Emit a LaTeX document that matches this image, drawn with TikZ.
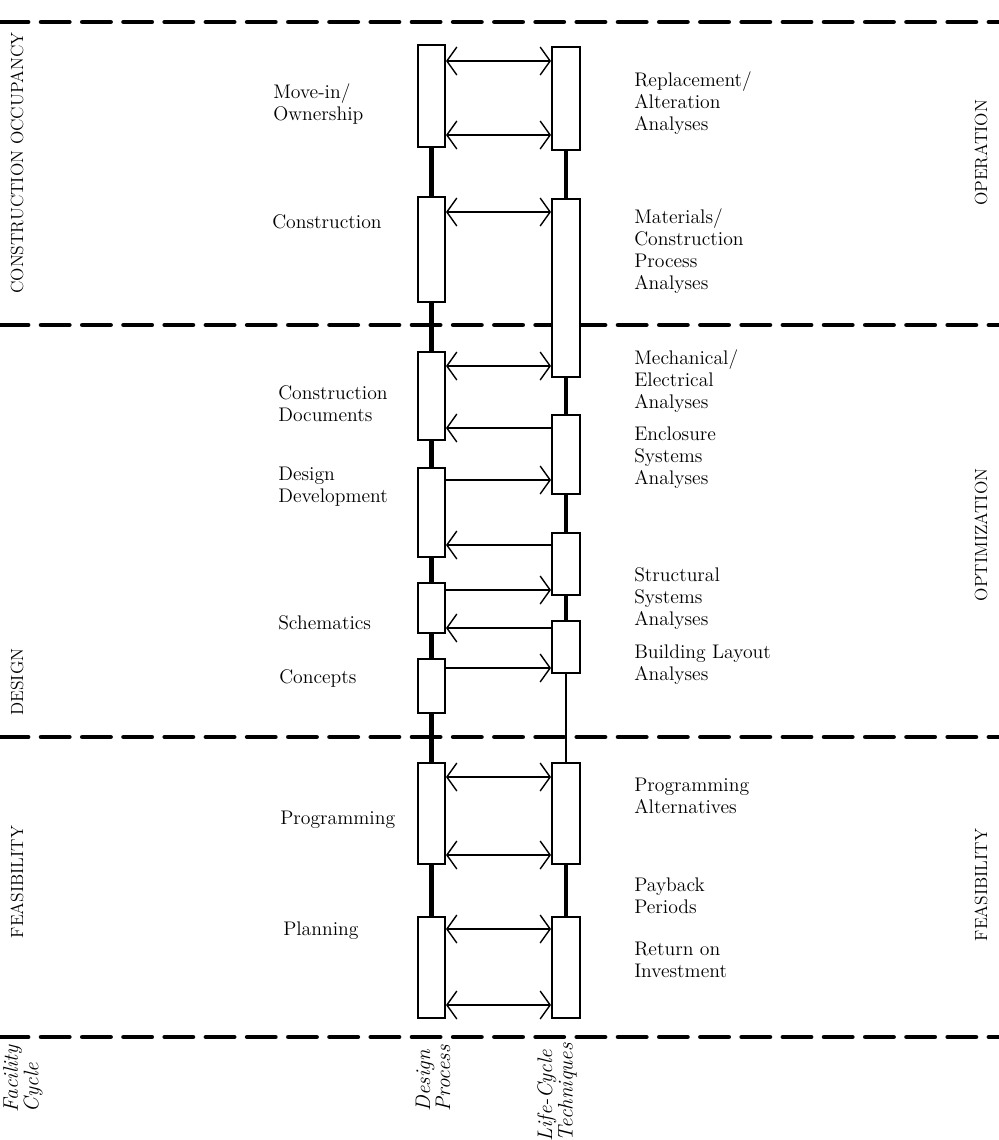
\documentclass[tikz,border=0pt]{standalone}
\usepackage{tikz}
\usetikzlibrary{arrows.meta, fit}

\begin{document}
\begin{tikzpicture}[
    x=0.025cm, y=-0.025cm,
    divider/.style={line width=3.5pt, dash pattern=on 0.7cm off 0.33cm, line cap=round},
    stagebox/.style={rectangle, draw, fill=white, line width=1.4pt, inner sep=0pt},
    spine/.style={line width=3pt},
    thinspine/.style={line width=1.8pt},
    link/.style={line width=1pt, -{Straight Barb[length=2.5mm, width=7mm]}},
    both/.style={line width=1pt, {Straight Barb[length=2.5mm, width=7mm]}-{Straight Barb[length=2.5mm, width=7mm]}},
    stagetext/.style={anchor=west, align=left, inner sep=0pt, font=\fontsize{14}{15.6}\selectfont},
    phase/.style={rotate=90, inner sep=0pt, font=\fontsize{12.5}{15}\selectfont},
    axislabel/.style={rotate=90, anchor=east, align=left, inner sep=0pt, font=\fontsize{15}{11}\selectfont\itshape}
]
\useasboundingbox (0,0) rectangle (999,1140);

\draw[divider] (0,22) -- (999,22);
\draw[divider] (0,325) -- (999,325);
\draw[divider] (0,737) -- (999,737);
\draw[divider] (0,1037) -- (999,1037);

% design process
\node[stagebox, fit={(418,45) (445,147)}] (dp1) {};
\node[stagebox, fit={(418,197) (445,302)}] (dp2) {};
\node[stagebox, fit={(418,352) (445,440)}] (dp3) {};
\node[stagebox, fit={(418,468) (445,557)}] (dp4) {};
\node[stagebox, fit={(418,583) (445,633)}] (dp5) {};
\node[stagebox, fit={(418,659) (445,713)}] (dp6) {};
\node[stagebox, fit={(418,763) (445,864)}] (dp7) {};
\node[stagebox, fit={(418,917) (445,1018)}] (dp8) {};

% life-cycle techniques
\node[stagebox, fit={(552,47) (580,150)}] (lc1) {};
\node[stagebox, fit={(552,199) (580,377)}] (lc2) {};
\node[stagebox, fit={(552,415) (580,494)}] (lc3) {};
\node[stagebox, fit={(552,533) (580,595)}] (lc4) {};
\node[stagebox, fit={(552,621) (580,673)}] (lc5) {};
\node[stagebox, fit={(552,763) (580,864)}] (lc6) {};
\node[stagebox, fit={(552,917) (580,1018)}] (lc7) {};

\draw[spine] (dp1) -- (dp2);
\draw[spine] (dp2) -- (dp3);
\draw[spine] (dp3) -- (dp4);
\draw[spine] (dp4) -- (dp5);
\draw[spine] (dp5) -- (dp6);
\draw[spine] (dp6) -- (dp7);
\draw[spine] (dp7) -- (dp8);
\draw[spine] (lc1) -- (lc2);
\draw[spine] (lc2) -- (lc3);
\draw[spine] (lc3) -- (lc4);
\draw[spine] (lc4) -- (lc5);
\draw[thinspine] (lc5) -- (lc6);
\draw[spine] (lc6) -- (lc7);

\coordinate (r1) at (0,61);
\coordinate (r2) at (0,135);
\coordinate (r3) at (0,212);
\coordinate (r4) at (0,366);
\coordinate (r5) at (0,428);
\coordinate (r6) at (0,480);
\coordinate (r7) at (0,545);
\coordinate (r8) at (0,590);
\coordinate (r9) at (0,628);
\coordinate (r10) at (0,668);
\coordinate (r11) at (0,777);
\coordinate (r12) at (0,855);
\coordinate (r13) at (0,929);
\coordinate (r14) at (0,1005);

\draw[both] (dp1.east |- r1) -- (lc1.west |- r1);
\draw[both] (dp1.east |- r2) -- (lc1.west |- r2);
\draw[both] (dp2.east |- r3) -- (lc2.west |- r3);
\draw[both] (dp3.east |- r4) -- (lc2.west |- r4);
\draw[link] (lc3.west |- r5) -- (dp3.east |- r5);
\draw[link] (dp4.east |- r6) -- (lc3.west |- r6);
\draw[link] (lc4.west |- r7) -- (dp4.east |- r7);
\draw[link] (dp5.east |- r8) -- (lc4.west |- r8);
\draw[link] (lc5.west |- r9) -- (dp5.east |- r9);
\draw[link] (dp6.east |- r10) -- (lc5.west |- r10);
\draw[both] (dp7.east |- r11) -- (lc6.west |- r11);
\draw[both] (dp7.east |- r12) -- (lc6.west |- r12);
\draw[both] (dp8.east |- r13) -- (lc7.west |- r13);
\draw[both] (dp8.east |- r14) -- (lc7.west |- r14);

\node[stagetext] (movein) at (273,104) {Move-in/\\Ownership};
\node[stagetext] (constr) at (272,222) {Construction};
\node[stagetext] (docs) at (278,404) {Construction\\Documents};
\node[stagetext] (devel) at (278,487) {Design\\Development};
\node[stagetext] (schem) at (278,623) {Schematics};
\node[stagetext] (concepts) at (279,678) {Concepts};
\node[stagetext] (program) at (280,820) {Programming};
\node[stagetext] (planning) at (283,931) {Planning};

\node[stagetext] (replace) at (634,103) {Replacement/\\Alteration\\Analyses};
\node[stagetext] (materials) at (634,251) {Materials/\\Construction\\Process\\Analyses};
\node[stagetext] (mech) at (634,381) {Mechanical/\\Electrical\\Analyses};
\node[stagetext] (enclosure) at (634,458) {Enclosure\\Systems\\Analyses};
\node[stagetext] (struct) at (634,599) {Structural\\Systems\\Analyses};
\node[stagetext] (layout) at (634,665) {Building Layout\\Analyses};
\node[stagetext] (alts) at (634,796) {Programming\\Alternatives};
\node[stagetext] (payback) at (634,896) {Payback\\Periods};
\node[stagetext] (roi) at (634,960) {Return on\\Investment};

\node[phase] (occupancy) at (17,163) {CONSTRUCTION OCCUPANCY};
\node[phase] (design) at (17,682) {DESIGN};
\node[phase] (feasleft) at (17,882) {FEASIBILITY};
\node[phase] (operation) at (981,153) {OPERATION};
\node[phase] (optim) at (981,535) {OPTIMIZATION};
\node[phase] (feasright) at (981,885) {FEASIBILITY};

\node[axislabel] (facility) at (23,1045) {Facility\\Cycle};
\node[axislabel] (process) at (433,1045) {Design\\Process};
\node[axislabel] (techniques) at (557,1043) {Life-Cycle\\Techniques};
\end{tikzpicture}
\end{document}
